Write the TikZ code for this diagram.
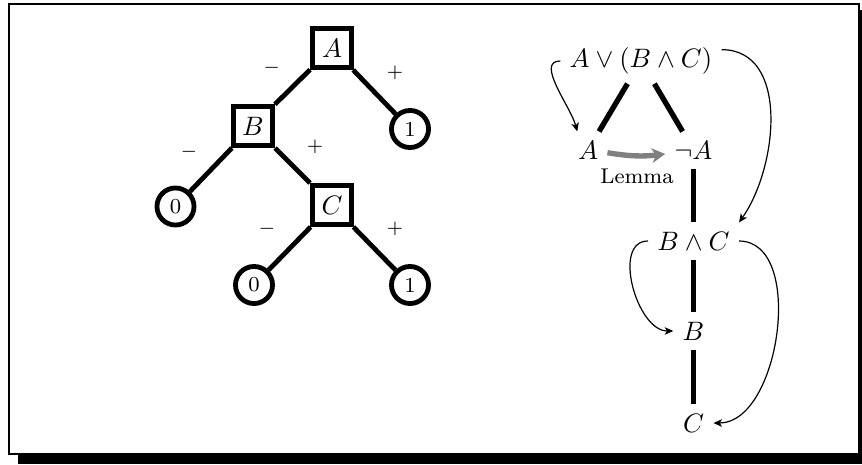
\documentclass[tikz,border=0pt]{standalone}
\usetikzlibrary{arrows.meta}
\begin{document}
\begin{tikzpicture}[x=0.375pt,y=-0.375pt,
  tbox/.style={draw,line width=1.9pt,minimum size=14.6pt,inner sep=0pt,font=\normalsize},
  leaf/.style={draw,circle,line width=1.8pt,minimum size=13.9pt,inner sep=0pt,font=\footnotesize},
  tedge/.style={line width=1.8pt},
  sign/.style={font=\scriptsize,inner sep=0pt},
  fedge/.style={line width=2pt},
  jump/.style={-{Stealth[length=3.2pt,width=2.8pt,inset=0.8pt]},line width=0.45pt},
  lemarrow/.style={draw=black!50,line width=2pt,-{Stealth[length=5pt,width=5.5pt,inset=1.5pt]}},
]
\useasboundingbox (0,0) rectangle (862,464);
% frame with shadow
\fill (18,454) rectangle (862,464);
\fill (859.5,10) rectangle (862,464);
\draw[line width=0.75pt] (9,4) rectangle (858.5,453.5);

% decision tree
\node[tbox] (A) at (332,48) {$A$};
\node[tbox] (B) at (253,126) {$B$};
\node[tbox] (C) at (332,205) {$C$};
\node[leaf] (l1) at (410,129) {1};
\node[leaf] (l0) at (175.5,206.5) {0};
\node[leaf] (l2) at (254,285) {0};
\node[leaf] (l3) at (410,285) {1};
\draw[tedge] (A) -- (B);
\draw[tedge] (A) -- (l1);
\draw[tedge] (B) -- (l0);
\draw[tedge] (B) -- (C);
\draw[tedge] (C) -- (l2);
\draw[tedge] (C) -- (l3);
\node[sign] (s1) at (271.7,67.7) {$-$};
\node[sign] (s2) at (395,73) {$+$};
\node[sign] (s3) at (189,151.7) {$-$};
\node[sign] (s4) at (315,146.7) {$+$};
\node[sign] (s5) at (267,229) {$-$};
\node[sign] (s6) at (395,229) {$+$};

% formula tree
\node (f) at (641,61) {$A\lor(B\land C)$};
\node (a) at (588,150) {$A$};
\node (na) at (693.5,150) {$\neg A$};
\node (bc) at (693.5,241) {$B\land C$};
\node (b) at (693.5,331) {$B$};
\node (c) at (693.5,423) {$C$};
\node[font=\footnotesize] (lem) at (637,176) {Lemma};
\draw[fedge] (f) -- (a);
\draw[fedge] (f) -- (na);
\draw[fedge] (na) -- (bc);
\draw[fedge] (bc) -- (b);
\draw[fedge] (b) -- (c);
\draw[lemarrow] (a) to[bend right=8] (na);
\draw[jump] (f.west) to[out=180,in=105,looseness=0.9] (a.120);
\draw[jump] (f.8) to[out=0,in=55] (bc.north east);
\draw[jump] (bc.west) to[out=180,in=180] (b.west);
\draw[jump] (bc.east) to[out=0,in=0,looseness=0.93] (c.east);
\end{tikzpicture}
\end{document}
